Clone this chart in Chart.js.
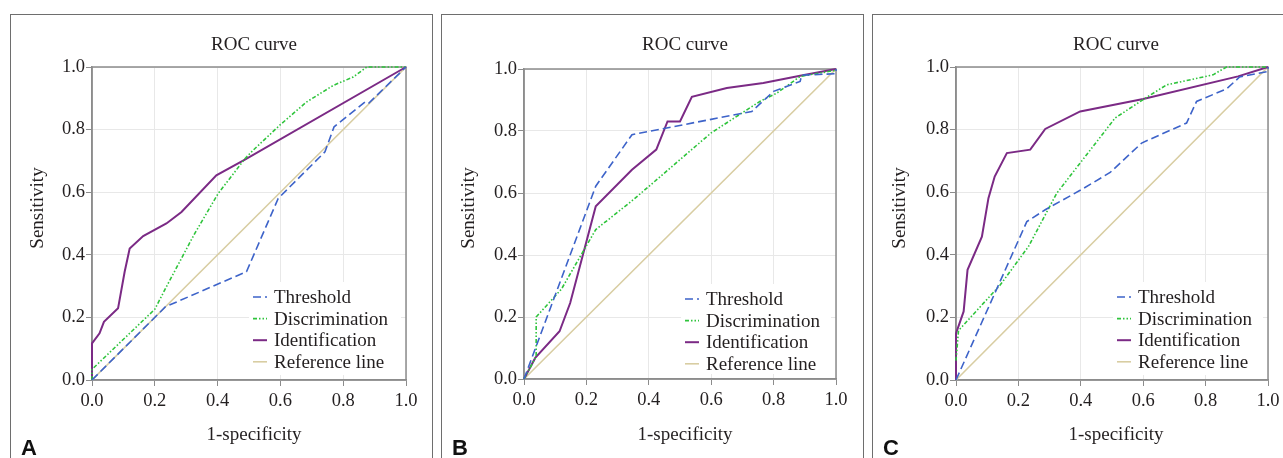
<!DOCTYPE html>
<html>
<head>
<meta charset="utf-8">
<script src="https://cdn.jsdelivr.net/npm/chart.js@4"></script>
<style>
    body { margin: 0; width: 1283px; height: 458px; overflow: hidden; background: #fff; }
    .panel { position: absolute; top: 14px; width: 421px; height: 470px; border: 1px solid #6e6e6e; overflow: hidden; }
    .panel canvas { position: absolute; left: 0; top: 0; }
    .txt { position: absolute; font-family: 'Liberation Serif', serif; font-size: 19px; color: #231f20; white-space: nowrap; text-align: center; width: 200px; line-height: 20px; }
    .ylab { transform: rotate(-90deg); }
    .letter { position: absolute; font-family: 'Liberation Sans', Arial, sans-serif; font-weight: bold; font-size: 22px; color: #111; line-height: 22px; }
</style>
</head>
<body>
<script>
    const tickValues = [0, 0.2, 0.4, 0.6, 0.8, 1.0];
    const seriesNames = ['Threshold', 'Discrimination', 'Identification', 'Reference line'];
    const referenceLine = [[0, 0], [1, 1]];

    // panel A
    const aThreshold = [[0, 0], [0.234, 0.234], [0.492, 0.346], [0.593, 0.58], [0.742, 0.729], [0.771, 0.809], [0.869, 0.888], [0.88, 0.883], [1, 1]];
    const aDiscrimination = [[0, 0], [0, 0.034], [0.2, 0.226], [0.237, 0.298], [0.327, 0.468], [0.402, 0.596], [0.487, 0.707], [0.513, 0.734], [0.598, 0.814], [0.683, 0.888], [0.768, 0.941], [0.832, 0.968], [0.875, 1], [1, 1]];
    const aIdentification = [[0, 0], [0, 0.117], [0.024, 0.149], [0.038, 0.186], [0.083, 0.229], [0.104, 0.346], [0.12, 0.42], [0.163, 0.46], [0.237, 0.5], [0.285, 0.537], [0.396, 0.654], [0.487, 0.704], [1, 1]];

    // panel B
    const bThreshold = [[0, 0], [0.23, 0.622], [0.346, 0.788], [0.73, 0.863], [0.8, 0.928], [0.885, 0.96], [0.89, 0.98], [1, 0.985], [1, 1]];
    const bDiscrimination = [[0, 0], [0.039, 0.073], [0.039, 0.2], [0.12, 0.29], [0.23, 0.482], [0.35, 0.578], [0.6, 0.794], [0.757, 0.896], [0.81, 0.922], [0.885, 0.976], [1, 0.996]];
    const bIdentification = [[0, 0], [0.036, 0.068], [0.114, 0.154], [0.148, 0.245], [0.23, 0.557], [0.346, 0.675], [0.424, 0.74], [0.46, 0.831], [0.5, 0.831], [0.538, 0.91], [0.65, 0.939], [0.767, 0.955], [0.885, 0.978], [1, 1]];

    // panel C
    const cThreshold = [[0, 0], [0.227, 0.506], [0.286, 0.544], [0.398, 0.606], [0.494, 0.663], [0.595, 0.757], [0.739, 0.821], [0.771, 0.89], [0.867, 0.93], [0.909, 0.968], [1, 0.986], [1, 1]];
    const cDiscrimination = [[0, 0.062], [0.008, 0.158], [0.142, 0.304], [0.232, 0.426], [0.323, 0.597], [0.51, 0.837], [0.6, 0.896], [0.675, 0.943], [0.824, 0.975], [0.867, 1], [1, 1]];
    const cIdentification = [[0, 0], [0, 0.149], [0.0245, 0.219], [0.037, 0.352], [0.083, 0.458], [0.104, 0.581], [0.124, 0.65], [0.163, 0.725], [0.238, 0.736], [0.286, 0.802], [0.398, 0.858], [0.6, 0.898], [0.904, 0.97], [1, 1]];

    const styles = [
        { color: '#3d63c9', dash: [8, 4], width: 1.6 },
        { color: '#2fc43c', dash: [4, 2, 1.5, 2, 1.5, 2], width: 1.6 },
        { color: '#7b2a85', dash: [], width: 2 },
        { color: '#d8cda2', dash: [], width: 1.6 }
    ];

    const serif = "'Liberation Serif', serif";
    const textColor = '#231f20';

    // chart area inside each panel canvas (left, top, right, bottom)
    const panels = [
        { left: 10, letter: 'A', area: [81, 52, 395, 365], series: [aThreshold, aDiscrimination, aIdentification, referenceLine] },
        { left: 441, letter: 'B', area: [82, 54, 394, 364], series: [bThreshold, bDiscrimination, bIdentification, referenceLine] },
        { left: 872, letter: 'C', area: [83, 52, 395, 365], series: [cThreshold, cDiscrimination, cIdentification, referenceLine] }
    ];

    const frameAndLegend = {
        id: 'frameAndLegend',
        beforeDatasetsDraw(chart) {
            const { ctx, chartArea: a } = chart;
            ctx.save();
            ctx.fillStyle = '#fff';
            ctx.fillRect(a.left + 157, a.top + 215, a.right - a.left - 162, a.bottom - a.top - 220);
            ctx.strokeStyle = '#8c8c8c';
            ctx.lineWidth = 1.5;
            ctx.strokeRect(a.left, a.top, a.right - a.left, a.bottom - a.top);
            ctx.restore();
        },
        afterDraw(chart) {
            const { ctx, chartArea: a } = chart;
            ctx.save();
            ctx.font = '19px ' + serif;
            ctx.textBaseline = 'middle';
            seriesNames.forEach((name, i) => {
                const y = a.top + 230 + i * 21.6;
                const x0 = a.left + 161;
                ctx.strokeStyle = styles[i].color;
                ctx.lineWidth = styles[i].width;
                ctx.setLineDash(styles[i].dash);
                ctx.beginPath();
                ctx.moveTo(x0, y);
                ctx.lineTo(x0 + 14, y);
                ctx.stroke();
                ctx.setLineDash([]);
                ctx.fillStyle = textColor;
                ctx.fillText(name, x0 + 21, y + 1);
            });
            ctx.restore();
        }
    };

    function axis(fixSize) {
        return {
            type: 'linear',
            min: 0,
            max: 1,
            afterBuildTicks: (s) => { s.ticks = tickValues.map(v => ({ value: v })); },
            afterFit: fixSize,
            grid: { color: '#e8e8e8', tickColor: '#8c8c8c', tickLength: 6 },
            border: { color: '#8c8c8c', width: 1.5 },
            ticks: {
                color: textColor,
                font: { family: serif, size: 18.5 },
                callback: (v) => Number(v).toFixed(1)
            }
        };
    }

    panels.forEach((p) => {
        const div = document.createElement('div');
        div.className = 'panel';
        div.style.left = p.left + 'px';
        document.body.appendChild(div);

        const W = 421, H = 444;
        const canvas = document.createElement('canvas');
        canvas.width = W;
        canvas.height = H;
        div.appendChild(canvas);

        const title = document.createElement('div');
        title.className = 'txt';
        title.textContent = 'ROC curve';
        title.style.left = (243 - 100) + 'px';
        title.style.top = (29 - 10) + 'px';
        div.appendChild(title);

        const xlab = document.createElement('div');
        xlab.className = 'txt';
        xlab.textContent = '1-specificity';
        xlab.style.left = (243 - 100) + 'px';
        xlab.style.top = (419 - 10) + 'px';
        div.appendChild(xlab);

        const ylab = document.createElement('div');
        ylab.className = 'txt ylab';
        ylab.textContent = 'Sensitivity';
        ylab.style.left = (26 - 100) + 'px';
        ylab.style.top = (193 - 10) + 'px';
        div.appendChild(ylab);

        const letter = document.createElement('div');
        letter.className = 'letter';
        letter.textContent = p.letter;
        letter.style.left = '10px';
        letter.style.top = '422px';
        div.appendChild(letter);

        const [L, T, R, B] = p.area;
        const x = axis((s) => { s.height = H - B; });
        const y = axis((s) => { s.width = L; });
        x.ticks.padding = 4;
        y.ticks.padding = 1;

        new Chart(canvas, {
            type: 'scatter',
            data: {
                datasets: p.series.map((pts, i) => ({
                    label: seriesNames[i],
                    data: pts.map(([px, py]) => ({ x: px, y: py })),
                    showLine: true,
                    borderColor: styles[i].color,
                    borderWidth: styles[i].width,
                    borderDash: styles[i].dash,
                    pointRadius: 0,
                    tension: 0,
                    clip: false
                }))
            },
            options: {
                responsive: false,
                animation: false,
                devicePixelRatio: 1,
                layout: { padding: { left: 0, top: T, right: W - R, bottom: 0 } },
                scales: { x: x, y: y },
                plugins: { legend: { display: false }, tooltip: { enabled: false } }
            },
            plugins: [frameAndLegend]
        });
    });
</script>
</body>
</html>
